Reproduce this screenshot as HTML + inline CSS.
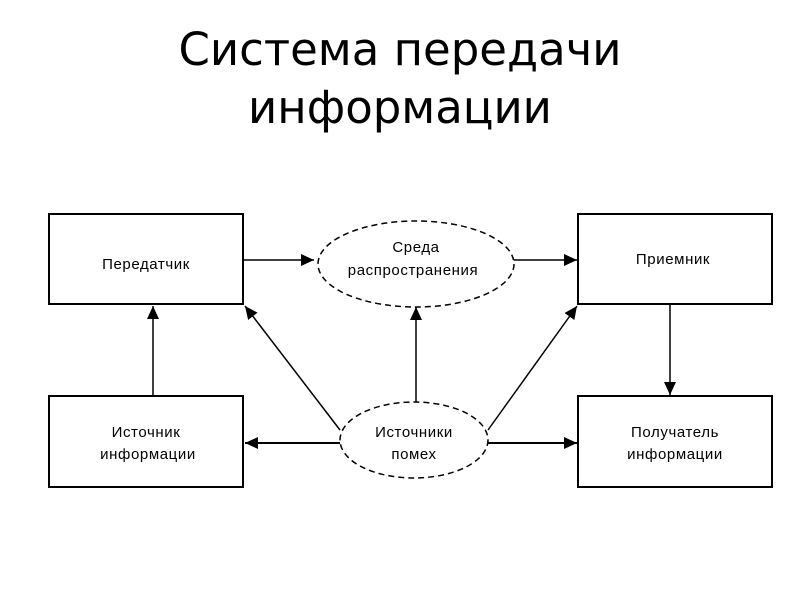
<!DOCTYPE html>
<html><head><meta charset="utf-8"><style>
body{margin:0;background:#fff;width:800px;height:600px;overflow:hidden;font-family:"DejaVu Sans","Liberation Sans",sans-serif}
.t{position:absolute;left:0;width:800px;text-align:center;font-size:45px;color:#000;line-height:1}
</style></head><body>
<div class="t" style="top:27px">Система передачи</div>
<div class="t" style="top:85px">информации</div>
<svg width="800" height="600" style="position:absolute;left:0;top:0" font-family="Liberation Sans, DejaVu Sans, sans-serif" font-size="15" letter-spacing="0.6">
<defs><marker id="a" markerWidth="13" markerHeight="12" refX="13" refY="6" orient="auto" markerUnits="userSpaceOnUse"><path d="M0,0L13,6L0,12z" fill="#000"/></marker></defs>
<g fill="none" stroke="#000" stroke-width="2">
<rect x="49" y="214" width="194" height="90"/>
<rect x="49" y="396" width="194" height="91"/>
<rect x="578" y="214" width="194" height="90"/>
<rect x="578" y="396" width="194" height="91"/>
</g>
<g fill="none" stroke="#000" stroke-width="1.5" stroke-dasharray="6,4">
<ellipse cx="416" cy="264" rx="98" ry="43"/>
<ellipse cx="414" cy="440" rx="74" ry="38"/>
</g>
<g stroke="#000" stroke-width="1.5" marker-end="url(#a)">
<line x1="243" y1="260" x2="314" y2="260"/>
<line x1="514" y1="260" x2="577" y2="260"/>
<line x1="153" y1="396" x2="153" y2="306"/>
<line x1="416" y1="402" x2="416" y2="307"/>
<line x1="670" y1="304" x2="670" y2="395"/>
<line x1="340" y1="430" x2="245" y2="306"/>
<line x1="488" y1="430" x2="577" y2="306"/>
<line x1="340" y1="443" x2="245" y2="443" stroke-width="2"/>
<line x1="488" y1="443" x2="577" y2="443" stroke-width="2"/>
</g>
<g text-anchor="middle" fill="#000">
<text x="146" y="269">Передатчик</text>
<text x="673" y="264">Приемник</text>
<text x="416" y="252">Среда</text>
<text x="413" y="275">распространения</text>
<text x="414" y="437">Источники</text>
<text x="414" y="459">помех</text>
<text x="146" y="437">Источник</text>
<text x="148" y="459">информации</text>
<text x="675" y="437">Получатель</text>
<text x="675" y="459">информации</text>
</g>
</svg>
</body></html>
